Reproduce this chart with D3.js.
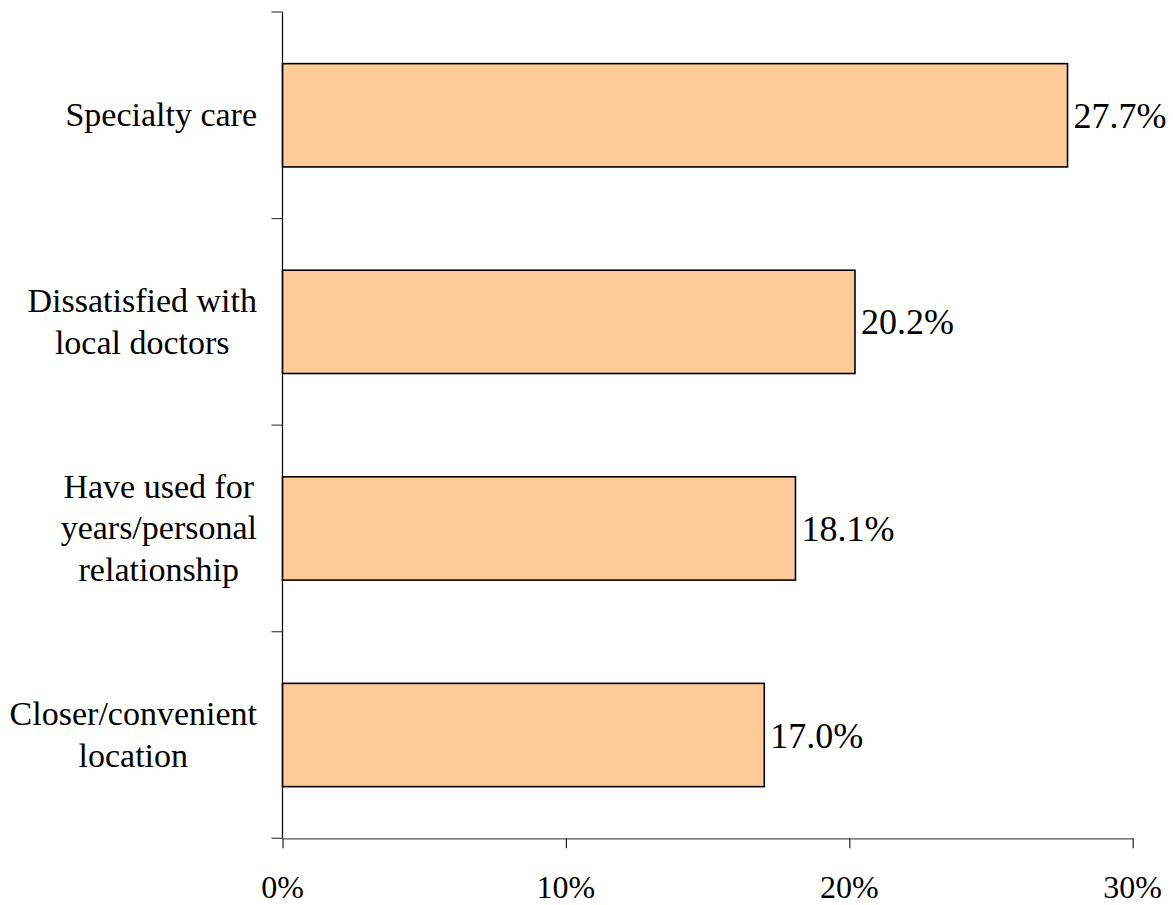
<!DOCTYPE html>
<html><head><meta charset="utf-8">
<script src="https://cdn.jsdelivr.net/npm/d3@7"></script></head>
<body>
<script>
// Reasons for using providers elsewhere (share of respondents, %)
const categories = [
  "Specialty care",
  "Dissatisfied with\nlocal doctors",
  "Have used for\nyears/personal\nrelationship",
  "Closer/convenient\nlocation"
];
const values = [27.7, 20.2, 18.1, 17.0];
const xTicks = [0, 10, 20, 30];

const W = 1173, H = 905;
const plot = { left: 282.5, right: 1132.7, top: 12, bottom: 838.3 };
const FONT = '"Liberation Serif"';

const svg = d3.select("body").append("svg")
  .attr("width", W).attr("height", H)
  .style("position", "absolute").style("left", "0px").style("top", "0px");

const x = d3.scaleLinear().domain([0, 30]).range([plot.left, plot.right]);
const y = d3.scaleBand().domain(categories)
  .range([plot.top, plot.bottom])
  .paddingInner(0.5).paddingOuter(0.25);

// Bars
svg.append("g").selectAll("rect")
  .data(categories)
  .join("rect")
  .attr("x", x(0))
  .attr("y", d => y(d))
  .attr("width", (d, i) => x(values[i]) - x(0))
  .attr("height", y.bandwidth())
  .attr("fill", "#FFCC99")
  .attr("stroke", "#000")
  .attr("stroke-width", 1.6);

// Value labels at bar ends
categories.forEach((cat, i) => {
  svg.append("text")
    .attr("x", x(values[i]) + 6)
    .attr("y", y(cat) + y.bandwidth() / 2 + 12.5)
    .attr("font-size", 36)
    .style("font-family", FONT)
    .text(values[i].toFixed(1) + "%");
});

// Y axis: line with ticks on category boundaries
svg.append("line")
  .attr("x1", plot.left).attr("x2", plot.left)
  .attr("y1", plot.top).attr("y2", plot.bottom)
  .attr("stroke", "#000").attr("stroke-width", 1.2);
const step = (plot.bottom - plot.top) / categories.length;
d3.range(categories.length + 1).forEach(i => {
  svg.append("line")
    .attr("x1", plot.left - 11).attr("x2", plot.left)
    .attr("y1", plot.top + i * step)
    .attr("y2", plot.top + i * step)
    .attr("stroke", "#444").attr("stroke-width", 1.2);
});

// X axis: lines from d3.axisBottom, labels as plain text
const xAxis = d3.axisBottom(x)
  .tickValues(xTicks)
  .tickFormat("")
  .tickSize(10)
  .tickSizeOuter(0);
const xg = svg.append("g")
  .attr("transform", `translate(0,${plot.bottom})`)
  .call(xAxis);
xg.select(".domain").attr("stroke", "#555").attr("stroke-width", 1.2);
xg.selectAll(".tick line").attr("stroke", "#222").attr("stroke-width", 1.2);
xTicks.forEach(t => {
  svg.append("text")
    .attr("x", x(t))
    .attr("y", plot.bottom + 60)
    .attr("font-size", 32)
    .style("font-family", FONT)
    .attr("text-anchor", "middle")
    .text(t + "%");
});

// Category labels: lines centred within a block right-aligned to the axis
const labelRight = 257;
const lineH = 41.5;
categories.forEach(cat => {
  const lines = cat.split("\n");
  const cy = y(cat) + y.bandwidth() / 2;
  const t = svg.append("text")
    .attr("font-size", 34)
    .style("font-family", FONT)
    .attr("text-anchor", "middle");
  const spans = lines.map((ln, i) =>
    t.append("tspan")
      .attr("x", labelRight)
      .attr("y", cy - (lines.length - 1) / 2 * lineH + i * lineH + 11)
      .text(ln));
  const maxW = d3.max(spans, s => s.node().getComputedTextLength());
  spans.forEach(s => s.attr("x", labelRight - maxW / 2));
});
</script>
</body>
</html>
